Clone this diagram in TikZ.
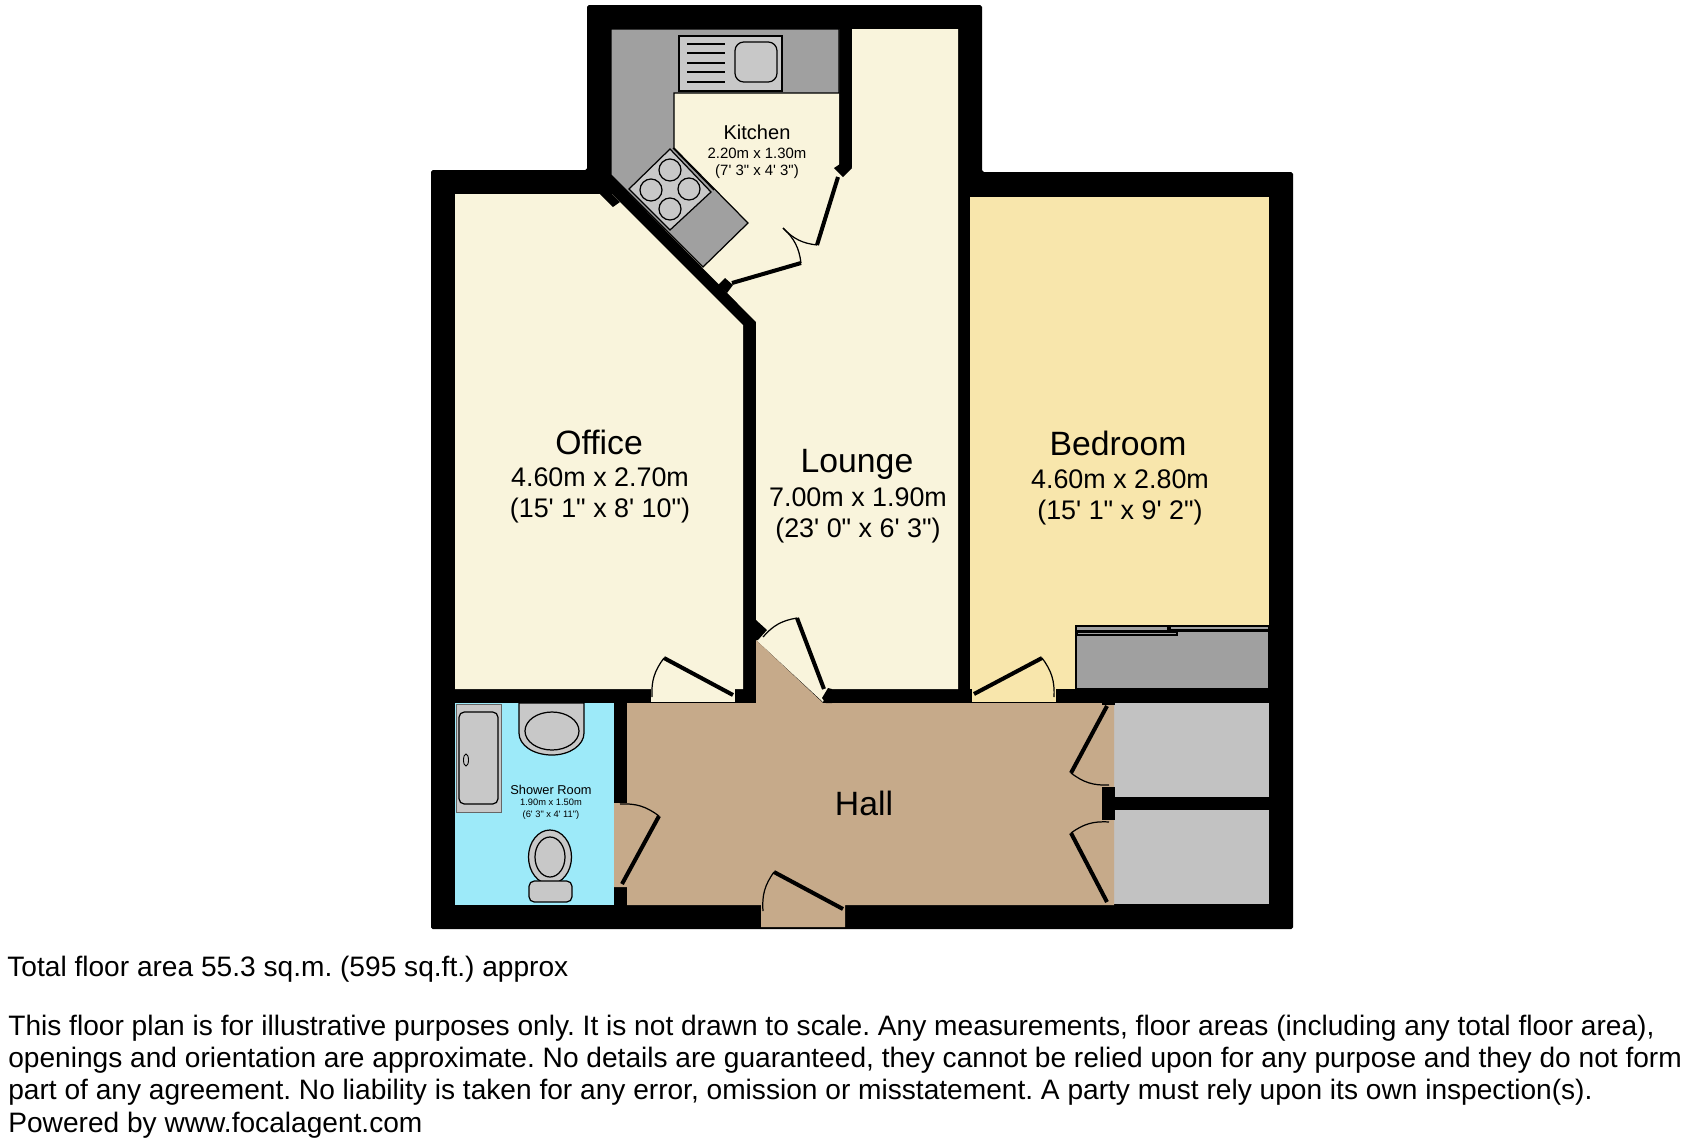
\documentclass[tikz,border=0pt]{standalone}
\usepackage{fontspec}
\setmainfont[Ligatures=TeXOff]{Liberation Sans}
\usetikzlibrary{positioning}
\definecolor{cream}{HTML}{F9F4DC}
\definecolor{straw}{HTML}{F8E6AC}
\definecolor{tan}{HTML}{C6AA8A}
\definecolor{aqua}{HTML}{9DEAF9}
\definecolor{unit}{HTML}{A0A0A0}
\definecolor{fitting}{HTML}{C8C8C8}
\definecolor{store}{HTML}{C2C2C2}
\frenchspacing
\tikzset{
  thinline/.style={draw=black,line width=0.7pt},
  leaf/.style={line width=2.3pt},
  swing/.style={line width=0.7pt},
  bigname/.style={font=\fontsize{19.2}{23}\selectfont},
  bigsize/.style={font=\fontsize{15.3}{17.6}\selectfont,align=center},
  midname/.style={font=\fontsize{11.4}{13}\selectfont},
  midsize/.style={font=\fontsize{8.5}{10}\selectfont,align=center},
  smallname/.style={font=\fontsize{7.3}{9}\selectfont},
  smallsize/.style={font=\fontsize{5.3}{6.6}\selectfont,align=center},
  note/.style={font=\fontsize{16}{19}\selectfont,anchor=base west,inner sep=0pt}
}
\begin{document}
\begin{tikzpicture}[x=0.02cm,y=-0.02cm]
    \useasboundingbox (0,0) rectangle (1688,1144);
    % walls, the rooms are cut out of this
    \fill[black,rounded corners=1pt] (587,5) -- (982,5) -- (982,172) -- (1293,172) -- (1293,929) -- (431,929) -- (431,170) -- (587,170) -- cycle;
    % rooms
    \fill[cream] (455,194) -- (612,194) -- (743,325) -- (743,689) -- (455,689) -- cycle;
    \fill[cream] (651,689) rectangle (735,702);
    \fill[cream] (611,29) -- (839,29) -- (839,165) -- (852,168) -- (852,29) -- (958,29) -- (958,689) -- (828,689) -- (823,702) -- (756,640) -- (756,322) -- (611,175) -- cycle;
    \fill[straw] (970,197) rectangle (1269,689);
    \fill[straw] (972,689) rectangle (1056,702);
    \fill[aqua] (455,703) rectangle (614,905);
    \fill[store] (1114,703) rectangle (1269,797);
    \fill[store] (1114,810) rectangle (1269,904);
    \fill[tan] (627,703) -- (756,703) -- (756,640) -- (823,703) -- (1114,703) -- (1114,905) -- (845,905) -- (845,927) -- (761,927) -- (761,905) -- (627,905) -- (627,887) -- (614,887) -- (614,803) -- (627,803) -- cycle;
    % stubs of wall at the door openings
    \fill[black] (600,194) -- (613,207) -- (620,202) -- (612,194) -- cycle;
    \fill[black] (834,168) -- (843,162) -- (852,168) -- (843,177) -- cycle;
    \fill[black] (718,285) -- (725,278) -- (733,285) -- (727,293) -- cycle;
    \fill[black] (756,620) -- (767,630) -- (758,640) -- (756,640) -- cycle;
    \fill[black] (822,698) -- (828,688) -- (832,689) -- (832,703) -- (826,703) -- cycle;
    \fill[black] (1102,787) rectangle (1115,820);
    \fill[black] (1102,703) rectangle (1115,704.5);
    % kitchen units
    \filldraw[fill=unit,thinline] (611,29) -- (839,29) -- (839,93) -- (674,93) -- (674,148) -- (748,223) -- (703,267) -- (611,175) -- cycle;
    \filldraw[fill=fitting,thinline] (679,36) rectangle (782,91);
    \foreach \y in {44,53,63,72,82} \draw[thinline] (687,\y) -- (725,\y);
    \draw[thinline,rounded corners=5pt] (735,42) rectangle (777,82);
    \filldraw[fill=fitting,thinline] (670,149) -- (711,192) -- (670,230) -- (629,189) -- cycle;
    \draw[thinline] (673,148) -- (714,190);
    \foreach \x/\y in {670/170,689/189,670/209,651/190} \draw[thinline] (\x,\y) circle (11);
    % wardrobe
    \filldraw[fill=unit,thinline] (1076,631) rectangle (1269,689);
    \filldraw[fill=fitting!80!black,thinline] (1076,626) rectangle (1168,631);
    \filldraw[fill=fitting!80!black,thinline] (1170,626) rectangle (1269,630);
    \filldraw[fill=fitting!80!black,thinline] (1077,632) rectangle (1177,635);
    % shower room fittings
    \filldraw[fill=fitting,draw=black!60,line width=0.5pt] (456,704) rectangle (501,812);
    \draw[thinline,rounded corners=3pt] (459,712) rectangle (498,804);
    \draw[line width=0.5pt] (466,760) ellipse (2.5 and 6);
    \filldraw[fill=fitting,thinline] (519,703) -- (584,703) -- (584,733) .. controls (584,745) and (570,755) .. (552,755) .. controls (533,755) and (519,745) .. (519,733) -- cycle;
    \draw[thinline] (552,731) ellipse (27 and 19);
    \filldraw[fill=fitting,thinline] (550,857) ellipse (21.5 and 27);
    \draw[thinline] (550,857) ellipse (15 and 20);
    \filldraw[fill=fitting,thinline,rounded corners=3pt] (529,881) rectangle (572,902);
    % doors
    \draw[leaf] (664,658) -- (733,695);
    \draw[swing] (664,658) to[bend right=20] (652,697);
    \draw[leaf] (774,872) -- (843,909);
    \draw[swing] (774,872) to[bend right=20] (763,911);
    \draw[leaf] (974,694) -- (1042,658);
    \draw[swing] (1042,658) to[bend left=20] (1054,697);
    \draw[leaf] (622,884) -- (659,816);
    \draw[swing] (659,816) to[bend right=20] (620,804);
    \draw[leaf] (1107,706) -- (1071,773);
    \draw[swing] (1071,773) to[bend right=20] (1109,785);
    \draw[leaf] (1071,833) -- (1107,902);
    \draw[swing] (1071,833) to[bend left=20] (1109,822);
    \draw[leaf] (797,618) -- (824,689);
    \draw[swing] (797,618) to[bend right=20] (763,637);
    \draw[leaf] (838,177) -- (817,245);
    \draw[swing] (817,245) to[bend left=20] (783,228);
    \draw[leaf] (732,283) -- (801,263);
    \draw[swing] (801,263) to[bend right=20] (783,228);
    % labels
    \node[midname] (kitchen) at (757,132) {Kitchen};
    \node[midsize] (kitchensize) at (757,163.5) {2.20m x 1.30m\\(7' 3" x 4' 3")};
    \node[bigname] (office) at (599,442) {Office};
    \node[bigsize] (officesize) at (600,495.5) {4.60m x 2.70m\\(15' 1" x 8' 10")};
    \node[bigname] (lounge) at (857,464) {Lounge};
    \node[bigsize] (loungesize) at (858,515) {7.00m x 1.90m\\(23' 0" x 6' 3")};
    \node[bigname] (bedroom) at (1118,443) {Bedroom};
    \node[bigsize] (bedroomsize) at (1120,497) {4.60m x 2.80m\\(15' 1" x 9' 2")};
    \node[bigname] (hall) at (864,803) {Hall};
    \node[smallname] (shower) at (551,790) {Shower Room};
    \node[smallsize] (showersize) at (551,809) {1.90m x 1.50m\\(6' 3" x 4' 11")};
    \node[note] (total) at (7,976) {Total floor area 55.3 sq.m. (595 sq.ft.) approx};
    \node[note] (lineone) at (8,1035) {This floor plan is for illustrative purposes only. It is not drawn to scale. Any measurements, floor areas (including any total floor area),};
    \node[note] (linetwo) at (8,1067) {openings and orientation are approximate. No details are guaranteed, they cannot be relied upon for any purpose and they do not form};
    \node[note] (linethree) at (8,1099) {part of any agreement. No liability is taken for any error, omission or misstatement. A party must rely upon its own inspection(s).};
    \node[note] (linefour) at (8,1132) {Powered by www.focalagent.com};
  \end{tikzpicture}
\end{document}
